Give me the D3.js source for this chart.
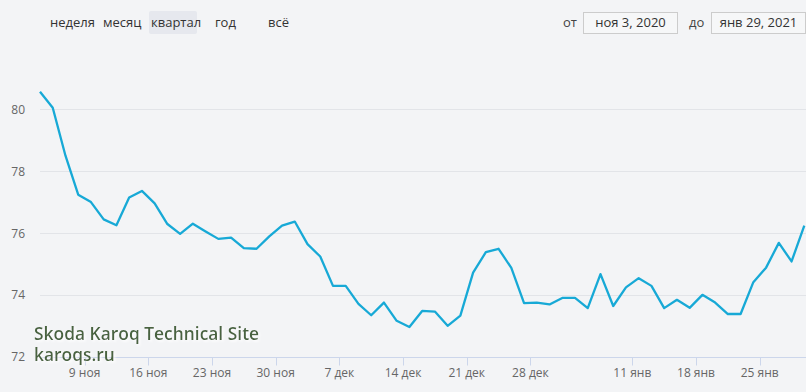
<!DOCTYPE html>
<html><head><meta charset="utf-8">
<script src="https://cdn.jsdelivr.net/npm/d3@7/dist/d3.min.js"></script>
<style>
html,body{margin:0;padding:0;background:#f3f4f6;}
svg{display:block;font-family:"Open Sans","Noto Sans",sans-serif;}
</style></head>
<body><svg id="c" width="806" height="392"></svg>
<script>
// Values (one point per trading day)
const values = [80.57,80.05,78.5,77.24,77.0,76.44,76.25,77.15,77.36,76.96,
  76.29,75.97,76.3,76.05,75.81,75.85,75.51,75.49,75.89,76.24,
  76.37,75.64,75.24,74.29,74.29,73.71,73.34,73.75,73.16,72.96,
  73.48,73.46,73.0,73.33,74.72,75.38,75.49,74.87,73.73,73.75,
  73.69,73.9,73.9,73.57,74.67,73.64,74.24,74.54,74.29,73.57,
  73.84,73.58,74.0,73.75,73.38,73.38,74.41,74.88,75.68,75.08,76.24];
// x tick labels and their positions (in point-index units)
const xTickLabels = ["9 ноя","16 ноя","23 ноя","30 ноя","7 дек","14 дек","21 дек","28 дек","11 янв","18 янв","25 янв"];
const xTickPos = [3.5,8.5,13.5,18.5,23.5,28.5,33.5,38.5,46.5,51.5,56.5];
const yTicks = [72,74,76,78,80];
const rangeButtons = ["неделя","месяц","квартал","год","всё"];
const fromLabel = "от", toLabel = "до";
const fromDate = "ноя 3, 2020", toDate = "янв 29, 2021";
const watermark = ["Skoda Karoq Technical Site","karoqs.ru"];

const svg = d3.select("#c");
const x = d3.scaleLinear().domain([0, values.length-1]).range([40, 804.3]);
const y = d3.scaleLinear().domain([72, 80]).range([356.7, 109.3]);

// grid
svg.append("g").selectAll("line").data(yTicks.filter(d=>d>72)).join("line")
  .attr("x1",40).attr("x2",806)
  .attr("y1",d=>Math.round(y(d))+0.5).attr("y2",d=>Math.round(y(d))+0.5)
  .attr("stroke","#e2e4e8").attr("stroke-width",1);

// y labels
svg.append("g").selectAll("text").data(yTicks).join("text")
  .attr("x",25).attr("y",d=>y(d)+4.5).attr("text-anchor","end")
  .attr("font-size",12).attr("fill","#666").text(d=>d);

// x axis
const xa = svg.append("g").attr("transform",`translate(0,${Math.round(y(72))+0.5})`);
xa.append("line").attr("x1",40).attr("x2",806).attr("stroke","#ccd6eb");
xa.selectAll("line.t").data(xTickPos).join("line").attr("class","t")
  .attr("x1",d=>Math.round(x(d))+0.5).attr("x2",d=>Math.round(x(d))+0.5)
  .attr("y1",0).attr("y2",8).attr("stroke","#ccd6eb");
xa.selectAll("text").data(xTickPos).join("text")
  .attr("x",d=>x(d)).attr("y",19.5).attr("text-anchor","middle")
  .attr("font-size",12).attr("fill","#666").text((d,i)=>xTickLabels[i]);

// line
svg.append("path").datum(values)
  .attr("d", d3.line().x((d,i)=>x(i)).y(d=>y(d)))
  .attr("fill","none").attr("stroke","#17a9d6").attr("stroke-width",2.3)
  .attr("stroke-linejoin","round");

// range selector
const btnX = [50,103,151,215,268];
svg.append("rect").attr("x",149).attr("y",11).attr("width",48).attr("height",23)
  .attr("rx",2).attr("fill","#e6e8ee");
svg.append("g").selectAll("text").data(rangeButtons).join("text")
  .attr("x",(d,i)=>btnX[i]).attr("y",27).attr("font-size",13).attr("fill","#333").text(d=>d);

svg.append("text").attr("x",563).attr("y",27).attr("font-size",13).attr("fill","#444").text(fromLabel);
svg.append("text").attr("x",689).attr("y",27).attr("font-size",13).attr("fill","#444").text(toLabel);
[[583.5,fromDate],[711.5,toDate]].forEach(([bx,t])=>{
  svg.append("rect").attr("x",bx).attr("y",12.5).attr("width",94).attr("height",21)
    .attr("fill","#f6f7f8").attr("stroke","#cccccc");
  svg.append("text").attr("x",bx+47).attr("y",27).attr("text-anchor","middle")
    .attr("font-size",13).attr("fill","#333").text(t);
});

// watermark
const defs = svg.append("defs");
const f = defs.append("filter").attr("id","sh").attr("x","-5%").attr("y","-20%").attr("width","110%").attr("height","150%");
f.append("feDropShadow").attr("dx",1.5).attr("dy",1.5).attr("stdDeviation",1).attr("flood-color","#ffffff").attr("flood-opacity",1);
svg.append("g").attr("filter","url(#sh)").selectAll("text").data(watermark).join("text")
  .attr("x",34).attr("y",(d,i)=>340+i*20.5).attr("font-size",17.4).attr("font-weight",600)
  .attr("fill","#48643f").text(d=>d);
</script></body></html>
